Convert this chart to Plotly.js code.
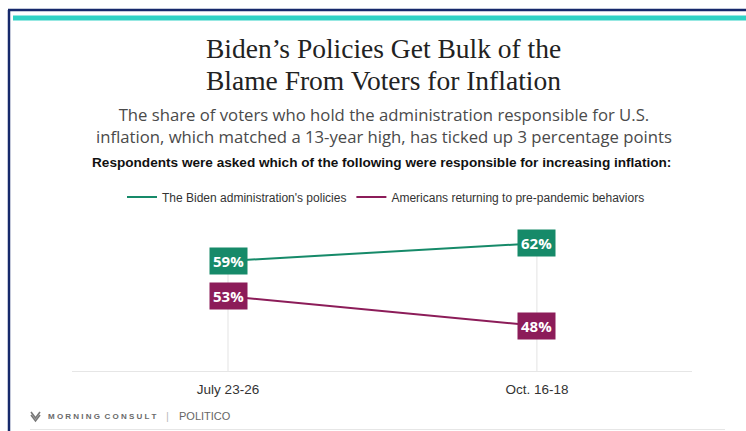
<!DOCTYPE html>
<html>
<head>
<meta charset="utf-8">
<script src="https://cdn.plot.ly/plotly-3.0.1.min.js"></script>
<style>
  html, body { margin: 0; padding: 0; background: #ffffff; }
  #chart { width: 746px; height: 431px; }
</style>
</head>
<body>
<div id="chart"></div>
<script>
// ---- data ----
const categories = ["July 23-26", "Oct. 16-18"];
const seriesNames = ["The Biden administration's policies", "Americans returning to pre-pandemic behaviors"];
const bidenPolicies = [59, 62];
const prePandemic = [53, 48];
const seriesColors = ["#168a69", "#8c1c59"];

// ---- layout geometry (pixels) ----
const W = 746, H = 431;
const M = { l: 72, r: 54, t: 220, b: 60 };
const plotW = W - M.l - M.r, plotH = H - M.t - M.b;
const yRange = [40.34, 65.94];
const px = x => (x - M.l) / plotW;
const py = y => (H - M.b - y) / plotH;

const seriesValues = [bidenPolicies, prePandemic];

const traces = [];
// vertical guide lines from baseline to the highest point of each category
categories.forEach((c, i) => {
  const top = Math.max(...seriesValues.map(s => s[i]));
  traces.push({
    x: [c, c], y: [yRange[0], top], mode: "lines", type: "scatter",
    line: { color: "#e3e3e3", width: 1 }, hoverinfo: "skip", showlegend: false
  });
});
seriesValues.forEach((vals, k) => {
  traces.push({
    x: categories, y: vals, mode: "lines", type: "scatter", name: seriesNames[k],
    line: { color: seriesColors[k], width: 2 }, cliponaxis: false, hoverinfo: "skip"
  });
});

const annotations = [];
seriesValues.forEach((vals, k) => {
  vals.forEach((v, i) => {
    annotations.push({
      x: categories[i], y: v, xref: "x", yref: "y", text: "<b>" + v + "%</b>", showarrow: false,
      bgcolor: seriesColors[k], borderpad: 3,
      font: { family: "'Open Sans', 'Liberation Sans', sans-serif", size: 15, color: "#ffffff" },
      xanchor: "center", yanchor: "middle"
    });
  });
});

// titles / text
const sans = "'Liberation Sans', Arial, sans-serif";
annotations.push(
  { text: "Biden’s Policies Get Bulk of the", x: px(384), y: py(48), xref: "paper", yref: "paper",
    showarrow: false, xanchor: "center", yanchor: "middle",
    font: { family: "'Liberation Serif', 'DejaVu Serif', serif", size: 27.5, color: "#222222" } },
  { text: "Blame From Voters for Inflation", x: px(384), y: py(80), xref: "paper", yref: "paper",
    showarrow: false, xanchor: "center", yanchor: "middle",
    font: { family: "'Liberation Serif', 'DejaVu Serif', serif", size: 27.5, color: "#222222" } },
  { text: "The share of voters who hold the administration responsible for U.S.<br>inflation, which matched a 13-year high, has ticked up 3 percentage points",
    x: px(384), y: py(126), xref: "paper", yref: "paper", showarrow: false, xanchor: "center", yanchor: "middle",
    align: "center", font: { family: "'Open Sans', " + sans, size: 16.7, color: "#4a4a4a" } },
  { text: "<b>Respondents were asked which of the following were responsible for increasing inflation:</b>",
    x: px(381), y: py(162), xref: "paper", yref: "paper", showarrow: false, xanchor: "center", yanchor: "middle",
    font: { family: sans, size: 13.6, color: "#111111" } },
  { text: "<b>M O R N I N G  C O N S U L T</b>", x: px(46), y: py(416), xref: "paper", yref: "paper", showarrow: false,
    xanchor: "left", yanchor: "middle", font: { family: sans, size: 8, color: "#6a6a6a" } },
  { text: "|", x: px(167), y: py(416), xref: "paper", yref: "paper", showarrow: false,
    xanchor: "center", yanchor: "middle", font: { family: sans, size: 11, color: "#bbbbbb" } },
  { text: "POLITICO", x: px(177), y: py(416), xref: "paper", yref: "paper", showarrow: false,
    xanchor: "left", yanchor: "middle", font: { family: sans, size: 11, color: "#666666" } }
);

const shapes = [
  // navy frame (left + top)
  { type: "line", xref: "paper", yref: "paper", x0: px(9), x1: px(9), y0: py(10), y1: py(431),
    line: { color: "#16296b", width: 2.5 } },
  { type: "line", xref: "paper", yref: "paper", x0: px(8), x1: px(746), y0: py(10), y1: py(10),
    line: { color: "#16296b", width: 2.5 } },
  // teal top bar
  { type: "rect", xref: "paper", yref: "paper", x0: px(13), x1: px(746), y0: py(15.5), y1: py(20.5),
    fillcolor: "#30d2c5", line: { width: 0 } },
  // bottom rule
  { type: "line", xref: "paper", yref: "paper", x0: px(30), x1: px(725), y0: py(429.5), y1: py(429.5),
    line: { color: "#e6e6e6", width: 1 } },
  // logo mark
  { type: "path", xref: "paper", yref: "paper",
    path: `M ${px(31)} ${py(412)} L ${px(35.5)} ${py(418)} L ${px(40)} ${py(412)} M ${px(31)} ${py(415)} L ${px(35.5)} ${py(421)} L ${px(40)} ${py(415)}`,
    line: { color: "#777777", width: 1.6 } }
];

const layout = {
  width: W, height: H,
  margin: M,
  paper_bgcolor: "#ffffff", plot_bgcolor: "#ffffff",
  showlegend: true,
  legend: {
    orientation: "h", x: px(386), xanchor: "center", y: py(197), yanchor: "middle",
    font: { family: sans, size: 12, color: "#333333" }, itemwidth: 30, tracegroupgap: 0,
    bgcolor: "rgba(0,0,0,0)"
  },
  xaxis: {
    type: "category", range: [-0.505, 1.502], showgrid: false, zeroline: false,
    showline: true, linecolor: "#e6e6e6", linewidth: 1, ticks: "",
    tickfont: { family: sans, size: 13.5, color: "#333333" }, ticklabelstandoff: 6, fixedrange: true
  },
  yaxis: {
    range: yRange, showgrid: false, zeroline: false, showline: false, showticklabels: false, ticks: "",
    fixedrange: true
  },
  annotations: annotations,
  shapes: shapes
};

Plotly.newPlot("chart", traces, layout, { displayModeBar: false, staticPlot: true });
</script>
</body>
</html>
